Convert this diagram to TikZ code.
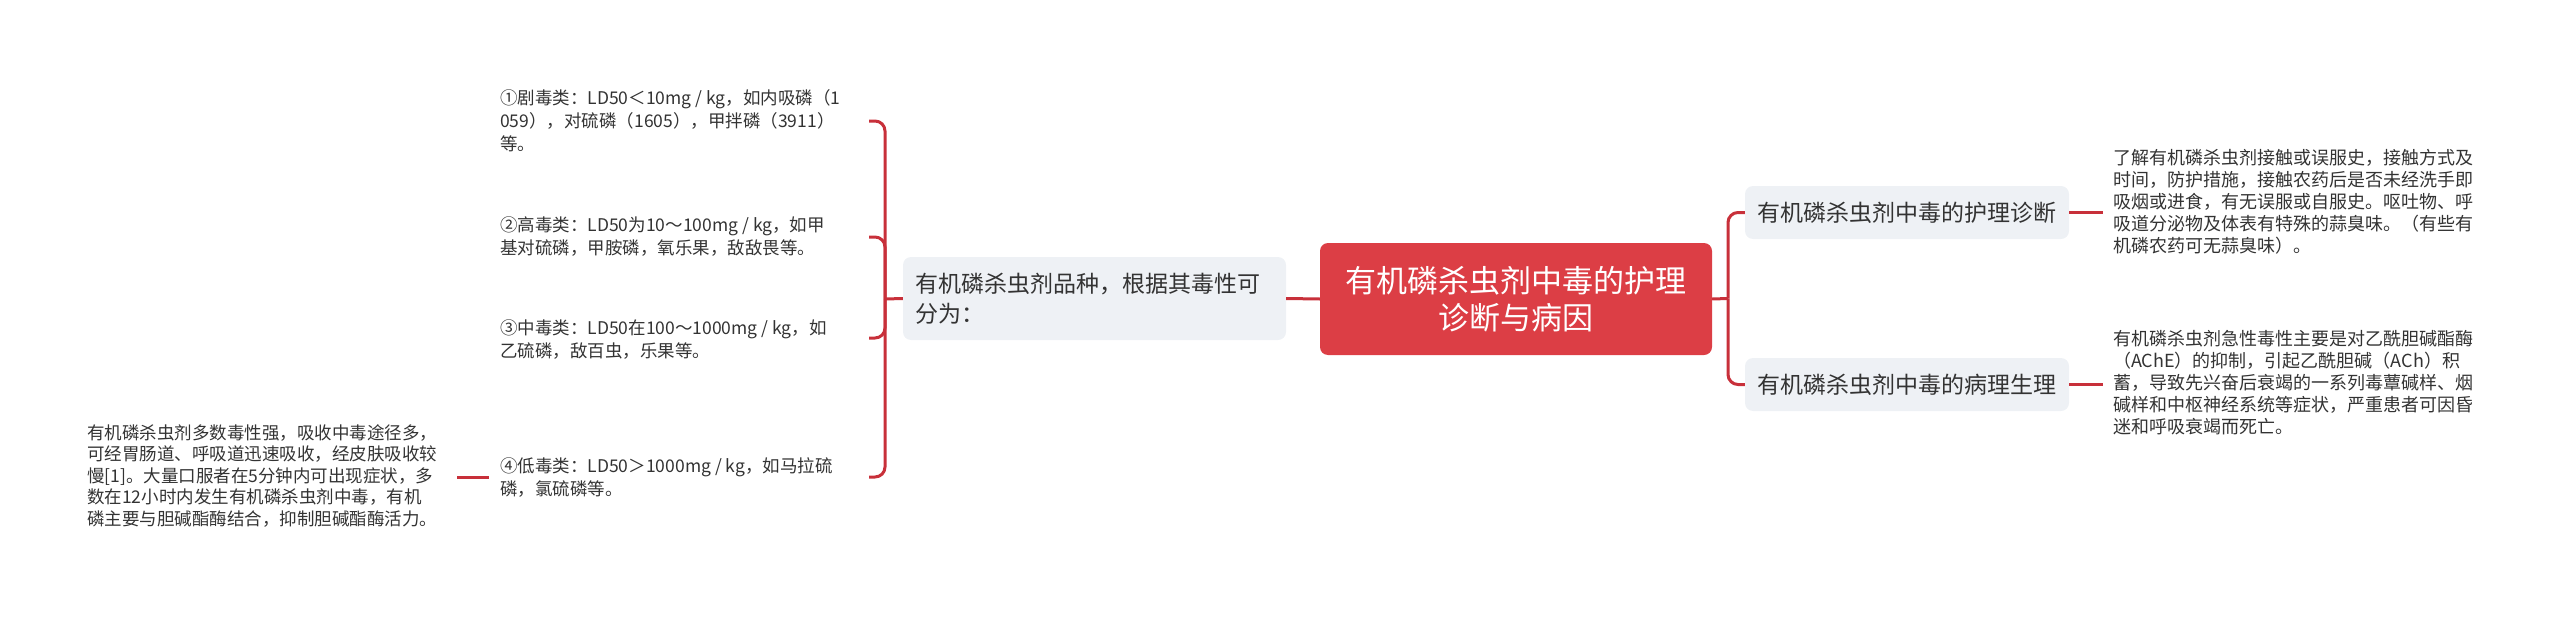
\documentclass[tikz,border=0pt]{standalone}
\usepackage{fontspec}
\setmainfont{Noto Sans CJK SC}
\definecolor{linered}{RGB}{200,48,58}
\definecolor{centerred}{RGB}{220,62,69}
\definecolor{nodegray}{RGB}{238,241,245}
\definecolor{txt}{RGB}{51,51,51}
\tikzset{
  conn/.style={draw=linered, line width=3pt, rounded corners=10pt},
  leaftext/.style={anchor=west, align=left, inner sep=0pt, text=txt, font=\fontsize{17.5}{23}\selectfont},
  sidetext/.style={anchor=west, align=left, inner sep=0pt, text=txt, font=\fontsize{18}{22}\selectfont},
  topicbox/.style={fill=nodegray, rounded corners=8pt, text=txt, inner sep=0pt, font=\fontsize{23}{30}\selectfont},
  centerbox/.style={fill=centerred, rounded corners=8pt, text=white, inner sep=0pt, align=center, font=\fontsize{31}{37}\selectfont}
}
\begin{document}
\begin{tikzpicture}[x=1pt,y=-1pt]
\useasboundingbox (0,0) rectangle (2560,621);

% central node
\node[centerbox, minimum width=392pt, minimum height=112pt] (c) at (1516,299) {有机磷杀虫剂中毒的护理\\诊断与病因};

% left topic
\node[topicbox, minimum width=383pt, minimum height=83pt, text width=359pt, align=left] (m) at (1094.5,298.5) {有机磷杀虫剂品种，根据其毒性可\\分为：};

% right topics
\node[topicbox, minimum width=324pt, minimum height=53pt] (r1) at (1907,212.5) {有机磷杀虫剂中毒的护理诊断};
\node[topicbox, minimum width=324pt, minimum height=53pt] (r2) at (1907,384.5) {有机磷杀虫剂中毒的病理生理};

% leaves on the left
\node[leaftext] (l1) at (500,121) {①剧毒类：LD50＜10mg / kg，如内吸磷（1\\059），对硫磷（1605），甲拌磷（3911）\\等。};
\node[leaftext] (l2) at (500,237) {②高毒类：LD50为10～100mg / kg，如甲\\基对硫磷，甲胺磷，氧乐果，敌敌畏等。};
\node[leaftext] (l3) at (500,340) {③中毒类：LD50在100～1000mg / kg，如\\乙硫磷，敌百虫，乐果等。};
\node[leaftext] (l4) at (500,478) {④低毒类：LD50＞1000mg / kg，如马拉硫\\磷，氯硫磷等。};

\node[anchor=west, align=left, inner sep=0pt, text=txt, font=\fontsize{17.5}{21.5}\selectfont] (lt) at (87,476) {有机磷杀虫剂多数毒性强，吸收中毒途径多，\\可经胃肠道、呼吸道迅速吸收，经皮肤吸收较\\慢[1]。大量口服者在5分钟内可出现症状，多\\数在12小时内发生有机磷杀虫剂中毒，有机\\磷主要与胆碱酯酶结合，抑制胆碱酯酶活力。};

% right texts
\node[sidetext] (t1) at (2113,202) {了解有机磷杀虫剂接触或误服史，接触方式及\\时间，防护措施，接触农药后是否未经洗手即\\吸烟或进食，有无误服或自服史。呕吐物、呼\\吸道分泌物及体表有特殊的蒜臭味。（有些有\\机磷农药可无蒜臭味）。};
\node[sidetext] (t2) at (2113,383) {有机磷杀虫剂急性毒性主要是对乙酰胆碱酯酶\\（AChE）的抑制，引起乙酰胆碱（ACh）积\\蓄，导致先兴奋后衰竭的一系列毒蕈碱样、烟\\碱样和中枢神经系统等症状，严重患者可因昏\\迷和呼吸衰竭而死亡。};

% coordinates
\coordinate (lt0) at (885,299);
\coordinate (h1) at (869,121);
\coordinate (h2) at (869,237);
\coordinate (h3) at (869,338);
\coordinate (h4) at (869,477);
\coordinate (a4) at (457,477);
\coordinate (b4) at (489,477);
\coordinate (rt0) at (1728,298.5);
\coordinate (e1) at (2103,212.5);
\coordinate (e2) at (2103,384.5);

% connectors left
\draw[conn] (c.west) -- (m.east);
\draw[conn] (m.west) -- (lt0);
\draw[conn] (lt0) |- (h1);
\draw[conn] (lt0) |- (h2);
\draw[conn] (lt0) |- (h3);
\draw[conn] (lt0) |- (h4);
\draw[conn] (a4) -- (b4);

% connectors right
\draw[conn] (c.east) -- (rt0);
\draw[conn] (rt0) |- (r1.west);
\draw[conn] (rt0) |- (r2.west);
\draw[conn] (r1.east) -- (e1);
\draw[conn] (r2.east) -- (e2);
\end{tikzpicture}
\end{document}
